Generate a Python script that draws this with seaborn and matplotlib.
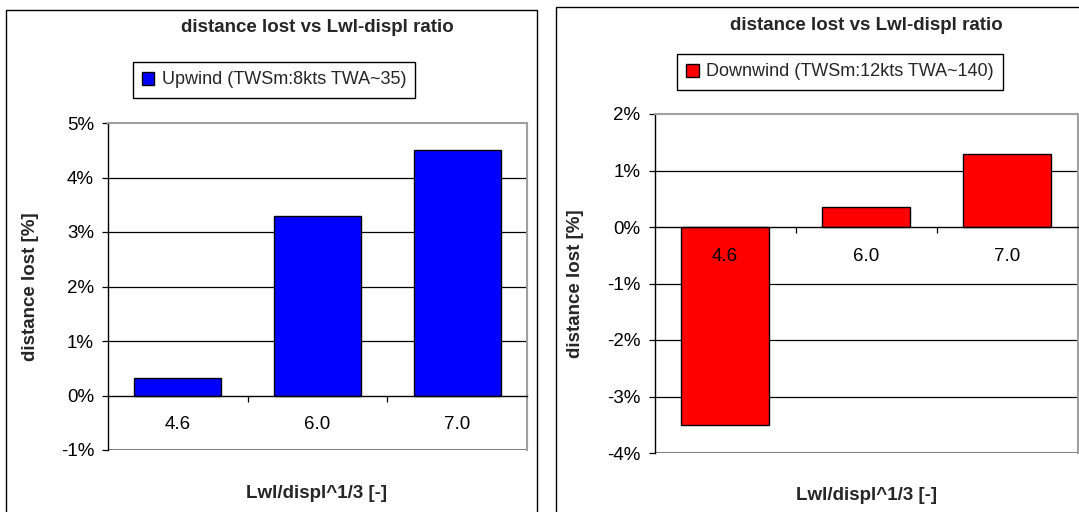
import numpy as np
import pandas as pd
import matplotlib
matplotlib.use("Agg")
import matplotlib.pyplot as plt
import seaborn as sns
from matplotlib.patches import Patch, Rectangle
from matplotlib.ticker import FuncFormatter, FixedLocator

# ------------------------------------------------------------
# data
# ------------------------------------------------------------
ratio_labels = ["4.6", "6.0", "7.0"]
upwind_lost = [0.33, 3.3, 4.5]
downwind_lost = [-3.5, 0.35, 1.3]

chart_title = "distance lost vs Lwl-displ ratio"
upwind_name = "Upwind (TWSm:8kts TWA~35)"
downwind_name = "Downwind (TWSm:12kts TWA~140)"
xlabel_text = "Lwl/displ^1/3 [-]"
ylabel_text = "distance lost [%]"

sns.set_theme(style="white")
plt.rcParams["font.family"] = ["Liberation Sans", "DejaVu Sans"]

W, H = 1079, 512
fig = plt.figure(figsize=(W / 100, H / 100), dpi=100)
fig.patch.set_facecolor("white")

FS = 13.5


def px_box(x0, y0, x1, y1):
    # pixel box (top-left origin) -> figure fraction rect
    return [x0 / W, 1 - y1 / H, (x1 - x0) / W, (y1 - y0) / H]


def fx(x):
    return x / W


def fy(y):
    return 1 - y / H


# outer chart frames
fig.patches.append(Rectangle((fx(6), -0.05), fx(537) - fx(6), fy(10) + 0.05,
                             transform=fig.transFigure, fill=False,
                             edgecolor="black", linewidth=1.0))
fig.patches.append(Rectangle((fx(556), -0.05), 0.6, fy(7) + 0.05,
                             transform=fig.transFigure, fill=False,
                             edgecolor="black", linewidth=1.0))


def draw_panel(box, values, color, ylim, series_name, title_xy, legend_xy,
               ylabel_x, xlabel_y):
    ax = fig.add_axes(px_box(*box))
    df = pd.DataFrame({"ratio": ratio_labels, "lost": values})
    sns.barplot(data=df, x="ratio", y="lost", color=color, saturation=1,
                edgecolor="black", linewidth=1.0, width=0.625, ax=ax,
                zorder=2)
    ax.set_xlim(-0.5, len(ratio_labels) - 0.5)
    ax.set_ylim(*ylim)
    ax.set_axisbelow(False)

    # gridlines (black) for inner ticks
    yt = np.arange(ylim[0], ylim[1] + 1)
    for v in yt[1:-1]:
        if v != 0:
            ax.axhline(v, color="black", linewidth=0.9, zorder=0)
    ax.axhline(ylim[0], color="#808080", linewidth=1.5, zorder=0)

    ax.yaxis.set_major_locator(FixedLocator(yt))
    ax.yaxis.set_major_formatter(FuncFormatter(lambda v, p: f"{v:.0f}%"))
    ax.tick_params(axis="y", which="major", direction="out", length=4,
                   width=0.9, color="black", pad=6, labelsize=FS,
                   labelcolor="black", left=True)

    # category axis crossing at 0
    ax.spines["bottom"].set_position(("data", 0))
    ax.spines["bottom"].set_color("black")
    ax.spines["bottom"].set_linewidth(1.0)
    ax.spines["left"].set_color("black")
    ax.spines["left"].set_linewidth(1.0)
    ax.spines["top"].set_color("#a0a0a0")
    ax.spines["top"].set_linewidth(1.5)
    ax.spines["right"].set_color("#a0a0a0")
    ax.spines["right"].set_linewidth(1.5)
    for s in ax.spines.values():
        s.set_zorder(3)

    ax.xaxis.set_major_locator(FixedLocator(range(len(ratio_labels))))
    ax.set_xticklabels(ratio_labels)
    ax.xaxis.set_minor_locator(FixedLocator([0.5, 1.5]))
    ax.tick_params(axis="x", which="major", length=0, pad=15, labelsize=FS,
                   labelcolor="black", bottom=True)
    ax.tick_params(axis="x", which="minor", direction="out", length=4,
                   width=0.9, color="black", bottom=True)

    ax.set_xlabel("")
    ax.set_ylabel("")
    ax.grid(False)
    ax.set_facecolor("white")

    fig.text(fx(title_xy[0]), fy(title_xy[1]), chart_title, ha="center",
             va="center", fontsize=FS, fontweight="bold")
    fig.text(fx(ylabel_x), fy((box[1] + box[3]) / 2), ylabel_text,
             rotation=90, ha="center", va="center", fontsize=FS,
             fontweight="bold")
    fig.text(fx(title_xy[0]), fy(xlabel_y), xlabel_text, ha="center",
             va="center", fontsize=FS, fontweight="bold")

    handle = Patch(facecolor=color, edgecolor="black", linewidth=1.0)
    leg = ax.legend([handle], [series_name], loc="center",
                    bbox_to_anchor=(fx(legend_xy[0]), fy(legend_xy[1])),
                    bbox_transform=fig.transFigure, fontsize=13,
                    frameon=True, fancybox=False, edgecolor="black",
                    framealpha=1, handlelength=0.7, handleheight=0.7,
                    handletextpad=0.4, borderpad=0.5)
    leg.get_frame().set_linewidth(1.0)
    return ax


draw_panel((108, 123, 527, 450), upwind_lost, "#0000FF", (-1, 5),
           upwind_name, (317, 28), (274, 80), 31, 493)
draw_panel((654.5, 114, 1077.5, 453), downwind_lost, "#FF0000", (-4, 2),
           downwind_name, (866, 26), (840, 72), 576, 496)

plt.savefig("out.png", dpi=100)
plt.close()
